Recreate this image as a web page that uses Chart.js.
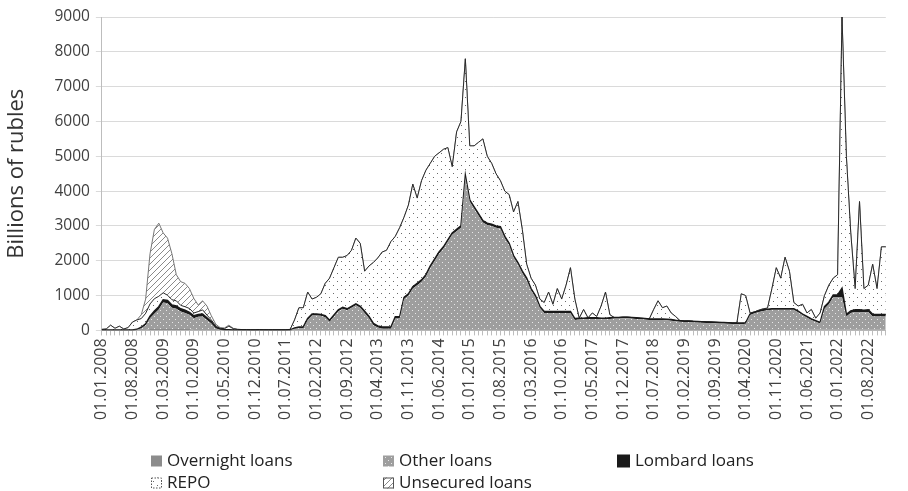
<!DOCTYPE html>
<html><head><meta charset="utf-8">
<script src="https://cdn.jsdelivr.net/npm/chart.js@4.4.1/dist/chart.umd.min.js"></script>
<style>html,body{margin:0;padding:0;background:#fff;}#wrap{position:relative;width:908px;height:491px;}</style>
</head><body><div id="wrap"><canvas id="c" width="908" height="491"></canvas></div>
<script>
// ---- data (billions of rubles, monthly, 01.2008 - 12.2022) ----
const startYear = 2008;
const monthCount = 180;
const tickLabels = ['01.01.2008','01.08.2008','01.03.2009','01.10.2009','01.05.2010','01.12.2010','01.07.2011','01.02.2012','01.09.2012','01.04.2013','01.11.2013','01.06.2014','01.01.2015','01.08.2015','01.03.2016','01.10.2016','01.05.2017','01.12.2017','01.07.2018','01.02.2019','01.09.2019','01.04.2020','01.11.2020','01.06.2021','01.01.2022','01.08.2022'];
const seriesNames = ['Overnight loans','Other loans','Lombard loans','REPO','Unsecured loans'];

const overnightLoans = [
10,10,10,10,10,10,10,10,10,10,
10,40,40,40,40,40,40,40,40,40,
40,10,10,10,10,10,10,10,10,10,
10,10,10,10,10,10,10,10,10,10,
10,10,10,10,10,10,10,10,10,10,
10,10,10,10,10,10,10,10,10,10,
10,10,10,10,10,10,10,10,10,30,
30,30,30,30,30,30,30,30,30,30,
30,30,30,30,30,30,30,30,30,30,
30,30,30,30,30,30,30,30,30,30,
10,10,10,10,10,10,10,10,10,10,
10,10,10,10,10,10,10,10,10,10,
10,10,10,10,10,10,10,10,10,10,
10,10,10,10,10,10,10,10,10,10,
10,10,10,10,10,10,10,10,10,10,
10,10,10,10,10,10,10,10,10,10,
20,20,20,20,20,20,20,20,20,20,
20,20,20,20,20,20,20,20,20,20];

const otherLoans = [
0,0,0,0,0,0,0,0,10,50,
140,310,440,560,760,740,610,580,500,460,
410,340,380,390,290,190,50,10,0,0,
0,0,0,0,0,0,0,0,0,0,
0,0,0,0,40,50,50,290,420,420,
410,370,240,390,540,610,570,640,710,640,
490,340,140,70,40,40,40,330,330,870,
970,1170,1270,1370,1520,1770,1970,2170,2320,2520,
2720,2820,2920,4370,3670,3470,3270,3070,3000,2970,
2920,2900,2620,2420,2070,1870,1620,1420,1120,920,
640,490,490,490,490,490,490,490,290,300,
310,320,320,320,310,310,320,330,330,340,
340,330,320,310,300,290,290,290,290,280,
270,250,240,230,230,220,215,210,205,200,
195,190,185,180,175,170,170,180,430,480,
520,550,570,580,580,585,585,580,580,510,
420,350,280,230,180,600,730,940,940,940,
380,480,510,510,500,510,380,380,380,380];

const lombardLoans = [
0,0,0,0,0,0,0,0,10,30,
40,60,80,80,80,80,80,80,80,80,
70,70,70,70,60,50,30,20,10,10,
5,5,5,5,5,5,5,5,5,5,
5,5,5,5,20,40,40,40,40,40,
40,40,40,40,40,40,40,40,40,40,
50,50,50,50,50,50,50,50,50,50,
50,50,50,50,50,50,50,50,50,50,
50,50,50,50,50,50,50,50,50,50,
50,50,50,50,50,50,50,50,50,50,
40,40,40,40,40,40,40,40,40,40,
30,30,30,30,30,30,30,30,30,30,
30,30,30,30,30,30,30,30,30,30,
30,30,30,30,30,30,30,30,30,30,
30,30,30,30,30,30,30,30,30,30,
30,30,30,30,30,30,30,30,30,30,
30,30,30,30,30,60,60,60,60,250,
60,60,60,60,60,60,60,60,60,60];

const repoLoans = [
20,30,140,50,110,30,70,230,270,250,
300,350,350,300,200,150,150,150,100,100,
110,80,80,120,80,50,40,20,30,100,
35,15,10,10,5,5,10,5,5,5,
5,5,5,15,230,550,550,760,430,480,
590,930,1210,1360,1510,1440,1530,1610,1890,1810,
1150,1450,1750,1950,2150,2200,2450,2310,2560,2300,
2550,2950,2450,2850,3000,2950,2950,2850,2800,2650,
1900,2800,3000,3350,1550,1750,2050,2350,1920,1750,
1500,1320,1300,1400,1250,1750,1200,400,300,300,
210,260,560,210,660,360,760,1260,560,0,
250,0,140,40,350,750,90,0,0,0,
0,0,0,0,0,0,270,520,320,380,
190,110,0,0,0,0,0,0,0,0,
0,0,0,0,0,0,840,780,30,10,
20,30,30,580,1180,875,1475,1080,180,150,
280,100,270,70,270,320,490,480,580,7790,
4540,2240,610,3110,620,710,1440,740,1940,1940];

const unsecuredLoans = [
0,0,0,0,0,0,0,0,0,110,
410,1440,1990,2100,1720,1640,1320,750,680,670,
570,420,190,260,260,120,50,20,20,30,
10,0,0,0,0,0,0,0,0,0,
0,0,0,0,0,0,0,0,0,0,
0,0,0,0,0,0,0,0,0,0,
0,0,0,0,0,0,0,0,0,0,
0,0,0,0,0,0,0,0,0,0,
0,0,0,0,0,0,0,0,0,0,
0,0,0,0,0,0,0,0,0,0,
0,0,0,0,0,0,0,0,0,0,
0,0,0,0,0,0,0,0,0,0,
0,0,0,0,0,0,0,0,0,0,
0,0,0,0,0,0,0,0,0,0,
0,0,0,0,0,0,0,0,0,0,
0,0,0,0,0,0,0,0,0,0,
0,0,0,0,0,0,0,0,0,0,
0,0,0,0,0,0,0,0,0,0];

// month categories "01.MM.YYYY"
const categories = [];
for (let i = 0; i < monthCount; i++) {
  const y = startYear + Math.floor(i / 12), m = i % 12 + 1;
  categories.push('01.' + String(m).padStart(2, '0') + '.' + y);
}

// ---- patterns ----
const canvas = document.getElementById('c');
const mainCtx = canvas.getContext('2d');
function makePattern(w, h, draw) {
  const c = document.createElement('canvas'); c.width = w; c.height = h;
  const x = c.getContext('2d'); draw(x, w, h);
  return mainCtx.createPattern(c, 'repeat');
}
const otherPattern = makePattern(6, 6, (x) => {
  x.fillStyle = '#9e9e9e'; x.fillRect(0, 0, 6, 6);
  x.fillStyle = '#e8e8e8'; x.fillRect(1, 1, 1, 1); x.fillRect(4, 4, 1, 1);
});
const repoPattern = makePattern(8, 8, (x) => {
  x.fillStyle = '#ffffff'; x.fillRect(0, 0, 8, 8);
  x.fillStyle = '#6a6a6a'; x.fillRect(1, 1, 1, 1); x.fillRect(5, 5, 1, 1);
});
const hatchPattern = makePattern(6, 6, (x) => {
  x.fillStyle = '#ffffff'; x.fillRect(0, 0, 6, 6);
  x.strokeStyle = '#8a8a8a'; x.lineWidth = 1;
  x.beginPath(); x.moveTo(0, 6); x.lineTo(6, 0); x.moveTo(-1, 1); x.lineTo(1, -1); x.moveTo(5, 7); x.lineTo(7, 5); x.stroke();
});

const styles = [
  {bg: '#8c8c8c', border: '#8c8c8c', bw: 0},
  {bg: otherPattern, border: '#9e9e9e', bw: 0},
  {bg: '#1a1a1a', border: '#1a1a1a', bw: 1.5},
  {bg: repoPattern, border: '#2a2a2a', bw: 1},
  {bg: hatchPattern, border: '#777777', bw: 1}
];
const seriesData = [overnightLoans, otherLoans, lombardLoans, repoLoans, unsecuredLoans];

const datasets = seriesData.map((d, k) => ({
  label: seriesNames[k], data: d,
  backgroundColor: styles[k].bg, borderColor: styles[k].border, borderWidth: styles[k].bw,
  fill: k === 0 ? 'origin' : '-1', pointRadius: 0, tension: 0
}));

// ---- custom grid legend ----
const legendLayout = [
  {x: 151, y: 461, s: 11}, {x: 383, y: 461, s: 11}, {x: 617, y: 461, s: 13},
  {x: 151, y: 483, s: 11}, {x: 383, y: 483, s: 11}
];
const gridLegend = {
  id: 'gridLegend',
  afterDraw(chart) {
    const ctx = chart.ctx; ctx.save();
    legendLayout.forEach((p, k) => {
      const top = p.y - p.s / 2;
      ctx.fillStyle = styles[k].bg; ctx.fillRect(p.x, top, p.s, p.s);
      if (k >= 3) { ctx.strokeStyle = '#555'; ctx.lineWidth = 1; if (k === 3) ctx.setLineDash([1.5, 1.5]); ctx.strokeRect(p.x + 0.5, top + 0.5, p.s - 1, p.s - 1); ctx.setLineDash([]); }
      ctx.fillStyle = '#222'; ctx.font = '17px "Open Sans", sans-serif'; ctx.textBaseline = 'middle';
      ctx.fillText(seriesNames[k], p.x + p.s + 5, p.y);
    });
    ctx.restore();
  }
};

Chart.defaults.font.family = '"Open Sans", sans-serif';
new Chart(canvas, {
  type: 'line',
  data: {labels: categories, datasets},
  plugins: [gridLegend],
  options: {
    responsive: false, animation: false, devicePixelRatio: 1,
    layout: {padding: {left: 4, right: 2, top: 17, bottom: 68}},
    plugins: {legend: {display: false}, tooltip: {enabled: false}},
    elements: {line: {borderJoinStyle: 'miter'}},
    scales: {
      x: {
        type: 'category', offset: false,
        grid: {drawOnChartArea: false, drawTicks: true, tickLength: 5, color: '#bdbdbd'},
        border: {color: '#bdbdbd'},
        ticks: {autoSkip: false, minRotation: 90, maxRotation: 90, padding: 3, color: '#404040', font: {size: 16},
          callback(v) { const l = this.getLabelForValue(v); return tickLabels.includes(l) ? l : ''; }}
      },
      y: {
        stacked: true, min: 0, max: 9000,
        grid: {color: '#dadada', tickLength: 6},
        border: {color: '#bdbdbd'},
        ticks: {stepSize: 1000, padding: 6, color: '#404040', font: {size: 15.5}, callback: (v) => String(v)},
        title: {display: true, text: 'Billions of rubles', color: '#333', font: {size: 22}, padding: {top: 0, bottom: 18}}
      }
    }
  }
});
</script></body></html>
